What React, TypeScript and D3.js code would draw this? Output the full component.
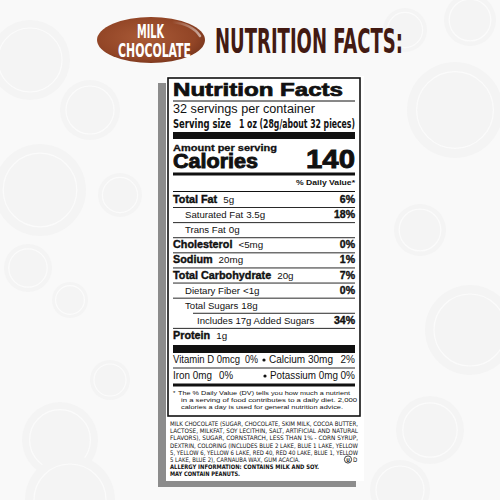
import React from "react";
import * as d3 from "d3";

// ---- content ----
const badgeLines = ["MILK", "CHOCOLATE"];
const headline = "NUTRITION FACTS:";
const labelTitle = "Nutrition Facts";
const servingsText = "32 servings per container";
const servingLabel = "Serving size";
const servingValue = "1 oz (28g/about 32 pieces)";
const amountLabel = "Amount per serving";
const caloriesLabel = "Calories";
const caloriesValue = [140];
const dvHeader = "% Daily Value*";

const nutrientNames = [
  "Total Fat",
  "Saturated Fat",
  "Trans Fat",
  "Cholesterol",
  "Sodium",
  "Total Carbohydrate",
  "Dietary Fiber",
  "Total Sugars",
  "Includes 17g Added Sugars",
  "Protein",
];
const nutrientAmounts = ["5g", "3.5g", "0g", "<5mg", "20mg", "20g", "<1g", "18g", "", "1g"];
const nutrientDV = ["6%", "18%", "", "0%", "1%", "7%", "0%", "", "34%", ""];
const nutrientIndent = [0, 1, 1, 0, 0, 0, 1, 1, 2, 0];
const nutrientBold = [true, false, false, true, true, true, false, false, false, true];

const vitaminNames = ["Vitamin D", "Calcium", "Iron", "Potassium"];
const vitaminAmounts = ["0mcg", "30mg", "0mg", "0mg"];
const vitaminDV = ["0%", "2%", "0%", "0%"];

const footnoteLines = [
  "The % Daily Value (DV) tells you how much a nutrient",
  "in a serving of food contributes to a daily diet. 2,000",
  "calories a day is used for general nutrition advice.",
];

const ingredientLines = [
  "MILK CHOCOLATE (SUGAR, CHOCOLATE, SKIM MILK, COCOA BUTTER,",
  "LACTOSE, MILKFAT, SOY LECITHIN, SALT, ARTIFICIAL AND NATURAL",
  "FLAVORS), SUGAR, CORNSTARCH, LESS THAN 1% - CORN SYRUP,",
  "DEXTRIN, COLORING (INCLUDES BLUE 2 LAKE, BLUE 1 LAKE, YELLOW",
  "5, YELLOW 6, YELLOW 6 LAKE, RED 40, RED 40 LAKE, BLUE 1, YELLOW",
  "5 LAKE, BLUE 2), CARNAUBA WAX, GUM ACACIA.",
];
const allergyLines = ["ALLERGY INFORMATION: CONTAINS MILK AND SOY.", "MAY CONTAIN PEANUTS."];

const HELV = "'Liberation Sans', Arial, 'DejaVu Sans', sans-serif";
const NARROW = "'Liberation Sans Narrow', 'DejaVu Sans Condensed', 'Liberation Sans', sans-serif";

export default function App() {
  const W = 500;
  const H = 500;
  // label geometry
  const boxL = 168, boxR = 360, boxT = 78, boxB = 416;
  const cL = 173, cR = 355;

  const rowY = d3.scaleLinear().domain([0, nutrientNames.length - 1]).range([203, 339]);
  const indentX = d3.scaleOrdinal<number, number>().domain([0, 1, 2]).range([cL, 185, 197]);
  const footY = d3.scaleLinear().domain([0, footnoteLines.length - 1]).range([395, 409]);
  const ingY = d3.scaleLinear().domain([0, 7]).range([426, 476.4]);
  const ingWidths = [188, 188, 188, 188, 188, 130];
  const allergyWidths = [149, 70];

  const bgCircles = [
    { x: 40, y: 190, r: 46 },
    { x: 28, y: 268, r: 24 },
    { x: 70, y: 300, r: 18 },
    { x: 120, y: 195, r: 22 },
    { x: 90, y: 110, r: 30 },
    { x: 30, y: 60, r: 40 },
    { x: 455, y: 110, r: 48 },
    { x: 470, y: 330, r: 45 },
    { x: 420, y: 230, r: 26 },
    { x: 430, y: 430, r: 34 },
    { x: 60, y: 440, r: 38 },
    { x: 110, y: 380, r: 20 },
    { x: 405, y: 30, r: 22 },
    { x: 470, y: 20, r: 26 },
    { x: 70, y: 500, r: 45 },
    { x: 400, y: 490, r: 30 },
  ];

  return (
    <svg
      width={W}
      height={H}
      viewBox={`0 0 ${W} ${H}`}
      style={{ position: "fixed", left: 0, top: 0 }}
    >
      <defs>
        <radialGradient id="bean" cx="45%" cy="45%" r="65%">
          <stop offset="0%" stopColor="#a95a37" />
          <stop offset="70%" stopColor="#924526" />
          <stop offset="100%" stopColor="#6e301a" />
        </radialGradient>
        <linearGradient id="shine" x1="0" y1="0" x2="1" y2="0">
          <stop offset="0%" stopColor="#ffffff" stopOpacity={0} />
          <stop offset="100%" stopColor="#ffffff" stopOpacity={0.55} />
        </linearGradient>
      </defs>
      <rect x={0} y={0} width={W} height={H} fill="#f9f9f9" />
      {bgCircles.map((c, i) => (
        <g key={i}>
          <circle cx={c.x} cy={c.y} r={c.r} fill="#f4f4f4" />
          <circle cx={c.x} cy={c.y} r={c.r * 0.8} fill="none" stroke="#fbfbfb" strokeWidth={1.2} />
        </g>
      ))}

      {/* badge */}
      <ellipse cx={151} cy={40} rx={54} ry={23} fill="url(#bean)" />
      <path d="M172,22 Q192,24 200,36" fill="none" stroke="url(#shine)" strokeWidth={2.5} strokeLinecap="round" />
      <text fontFamily={NARROW} fontWeight={700} fill="#ffffff" textAnchor="middle">
        <tspan x={150.5} y={38} fontSize={19} textLength={27} lengthAdjust="spacingAndGlyphs">
          {badgeLines[0]}
        </tspan>
        <tspan x={154.5} y={57} fontSize={20} textLength={73} lengthAdjust="spacingAndGlyphs">
          {badgeLines[1]}
        </tspan>
      </text>
      <g transform="translate(215,53) scale(1,1.4)">
        <text x={0} y={0} fontFamily={NARROW} fontWeight={700} fontSize={24.5} fill="#431a12"
          textLength={188} lengthAdjust="spacingAndGlyphs">
          {headline}
        </text>
      </g>

      {/* panel shadow + white card */}
      <rect x={158} y={83} width={198} height={404} fill="#8c8c8c" />
      <rect x={166} y={76} width={198} height={405} fill="#ffffff" />

      {/* label box */}
      <rect x={boxL} y={boxT} width={boxR - boxL} height={boxB - boxT} fill="#ffffff" stroke="#111" strokeWidth={1.6} />

      <text x={cL} y={96} fontFamily={HELV} fontWeight={900} fontSize={18} fill="#111" stroke="#111"
        strokeWidth={0.7} textLength={170} lengthAdjust="spacingAndGlyphs">
        {labelTitle}
      </text>
      <line x1={cL} x2={cR} y1={101} y2={101} stroke="#111" strokeWidth={1} />
      <text x={cL} y={113} fontFamily={HELV} fontSize={12.5} fill="#111" textLength={142} lengthAdjust="spacingAndGlyphs">
        {servingsText}
      </text>
      <text fontFamily={NARROW} fontWeight={700} fontSize={12.5} fill="#111">
        <tspan x={cL} y={128} textLength={58} lengthAdjust="spacingAndGlyphs">{servingLabel}</tspan>
        <tspan x={239} y={128} textLength={116} lengthAdjust="spacingAndGlyphs">{servingValue}</tspan>
      </text>
      <rect x={cL} y={132} width={cR - cL} height={7} fill="#111" />

      <text fontFamily={HELV} fontWeight={900} fill="#111" stroke="#111">
        <tspan x={cL} y={150.5} fontSize={9.5} strokeWidth={0.3} textLength={104} lengthAdjust="spacingAndGlyphs">
          {amountLabel}
        </tspan>
        <tspan x={cL} y={168} fontSize={20} strokeWidth={0.9} textLength={85} lengthAdjust="spacingAndGlyphs">
          {caloriesLabel}
        </tspan>
      </text>
      <text x={cR} y={168} textAnchor="end" fontFamily={HELV} fontWeight={900} fontSize={26.5} fill="#111"
        stroke="#111" strokeWidth={0.9} textLength={49} lengthAdjust="spacingAndGlyphs">
        {caloriesValue[0]}
      </text>
      <rect x={cL} y={172.5} width={cR - cL} height={3} fill="#111" />
      <text x={cR} y={185} textAnchor="end" fontFamily={HELV} fontWeight={700} fontSize={7} fill="#111"
        textLength={59} lengthAdjust="spacingAndGlyphs">
        {dvHeader}
      </text>
      <line x1={cL} x2={cR} y1={191.5} y2={191.5} stroke="#111" strokeWidth={1} />

      {nutrientNames.map((name, i) => {
        const y = rowY(i);
        const bold = nutrientBold[i];
        return (
          <g key={name}>
            <text x={indentX(nutrientIndent[i])} y={y} fontFamily={HELV} fill="#111"
              fontSize={bold ? 10.8 : 9.6}>
              <tspan fontWeight={bold ? 900 : 400} stroke={bold ? "#111" : "none"} strokeWidth={bold ? 0.4 : 0}>
                {name}
              </tspan>
              {nutrientAmounts[i] ? (
                <tspan dx={bold ? 6 : 3} fontWeight={400} fontSize={9.8}>
                  {nutrientAmounts[i]}
                </tspan>
              ) : null}
            </text>
            {nutrientDV[i] ? (
              <text x={cR} y={y} textAnchor="end" fontFamily={HELV} fontWeight={900} fontSize={10.5}
                fill="#111" stroke="#111" strokeWidth={0.4}>
                {nutrientDV[i]}
              </text>
            ) : null}
            {i < nutrientNames.length - 1 ? (
              <line x1={i === 7 ? 193 : cL} x2={cR} y1={y + 4.5} y2={y + 4.5} stroke="#111" strokeWidth={0.9} />
            ) : null}
          </g>
        );
      })}

      <rect x={cL} y={345} width={cR - cL} height={8} fill="#111" />

      {/* vitamins & minerals */}
      <g fontFamily={HELV} fontSize={10} fill="#111">
        <text x={cL} y={363} textLength={67} lengthAdjust="spacingAndGlyphs">
          {`${vitaminNames[0]} ${vitaminAmounts[0]}`}
        </text>
        <text x={245} y={363} textLength={13} lengthAdjust="spacingAndGlyphs">{vitaminDV[0]}</text>
        <circle cx={264} cy={360} r={1.6} fill="#111" />
        <text x={269} y={363} textLength={64} lengthAdjust="spacingAndGlyphs">
          {`${vitaminNames[1]} ${vitaminAmounts[1]}`}
        </text>
        <text x={cR} y={363} textAnchor="end">{vitaminDV[1]}</text>
        <line x1={cL} x2={cR} y1={368} y2={368} stroke="#111" strokeWidth={0.9} />
        <text x={cL} y={379} textLength={39} lengthAdjust="spacingAndGlyphs">
          {`${vitaminNames[2]} ${vitaminAmounts[2]}`}
        </text>
        <text x={219} y={379} textLength={14} lengthAdjust="spacingAndGlyphs">{vitaminDV[2]}</text>
        <circle cx={265} cy={376} r={1.6} fill="#111" />
        <text x={270} y={379} textLength={68} lengthAdjust="spacingAndGlyphs">
          {`${vitaminNames[3]} ${vitaminAmounts[3]}`}
        </text>
        <text x={cR} y={379} textAnchor="end">{vitaminDV[3]}</text>
      </g>
      <rect x={cL} y={383.5} width={cR - cL} height={3} fill="#111" />

      {/* footnote */}
      <g fontFamily={HELV} fontSize={6.1} fill="#111">
        <text x={cL} y={395}>*</text>
        {footnoteLines.map((t, i) => (
          <text key={i} x={i === 0 ? 178 : 181} y={footY(i)} textLength={[172, 176, 162][i]}
            lengthAdjust="spacingAndGlyphs">
            {t}
          </text>
        ))}
      </g>

      {/* ingredients */}
      <g fontFamily={NARROW} fontSize={6.2} fill="#111">
        {ingredientLines.map((t, i) => (
          <text key={i} x={170} y={ingY(i)} textLength={ingWidths[i]} lengthAdjust="spacingAndGlyphs">
            {t}
          </text>
        ))}
        {allergyLines.map((t, i) => (
          <text key={"a" + i} x={170} y={ingY(i + 6)} fontWeight={700} textLength={allergyWidths[i]}
            lengthAdjust="spacingAndGlyphs">
            {t}
          </text>
        ))}
        <circle cx={348} cy={459.5} r={3.6} fill="none" stroke="#111" strokeWidth={0.8} />
        <text x={348} y={461.6} textAnchor="middle" fontSize={5} fontWeight={700}>U</text>
        <text x={353} y={462} fontSize={6.2}>D</text>
      </g>
    </svg>
  );
}
